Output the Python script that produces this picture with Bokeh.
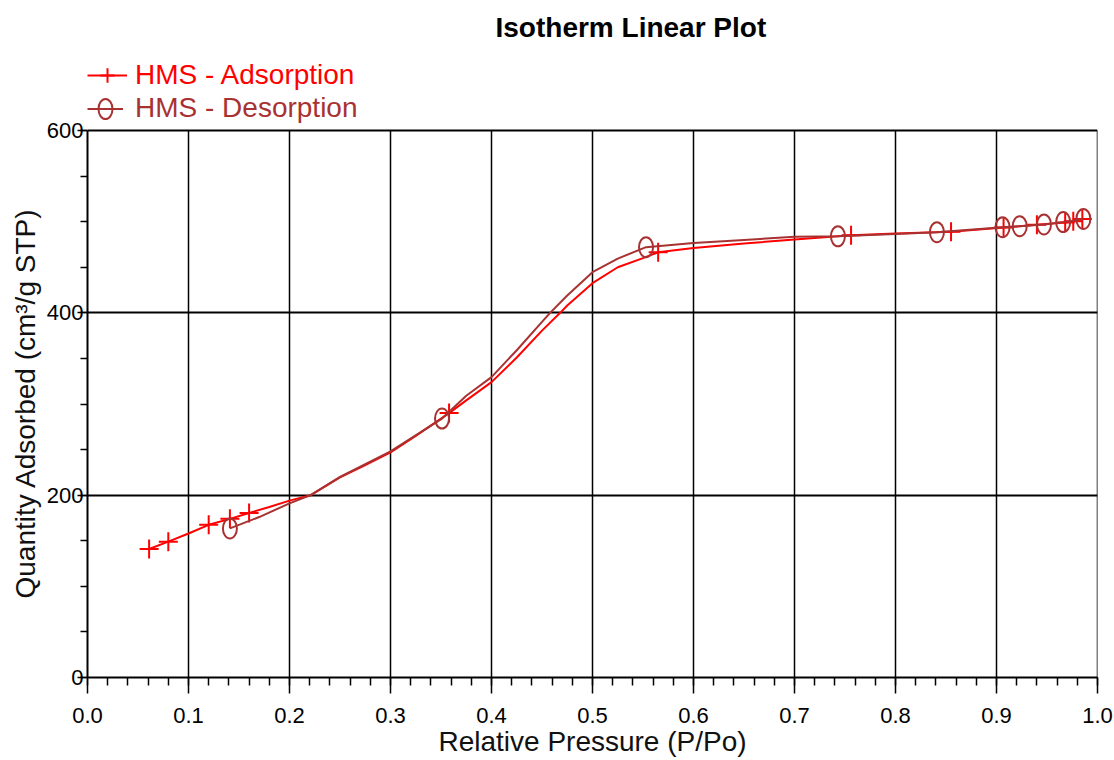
from bokeh.plotting import figure
from bokeh.models import (Range1d, SingleIntervalTicker, Legend, LegendItem, PrintfTickFormatter,
                          Label, Title)
from bokeh.embed import file_html
from bokeh.resources import INLINE

# ---- data ----
ads_x = [0.061, 0.080, 0.10, 0.120, 0.141, 0.160, 0.18, 0.20, 0.221, 0.25, 0.275, 0.30, 0.325,
         0.358, 0.375, 0.40, 0.425, 0.45, 0.468, 0.475, 0.50, 0.525, 0.55, 0.565, 0.60, 0.65,
         0.70, 0.756, 0.80, 0.855, 0.907, 0.940, 0.968, 0.976, 0.985]
ads_y = [141, 149, 158, 167.5, 174, 180.5, 187, 194, 200, 219.5, 233, 247, 265,
         290, 304, 324, 351, 380.5, 400, 408, 432.5, 450, 460, 466.5, 471, 476,
         480.5, 485, 487, 489, 493.5, 496.5, 499, 500.5, 503]
ads_mx = [0.061, 0.080, 0.120, 0.141, 0.160, 0.358, 0.565, 0.756, 0.855, 0.907, 0.940, 0.968, 0.976, 0.985]
ads_my = [141, 149, 167.5, 174, 180.5, 290, 466.5, 485, 489, 493.5, 496.5, 499, 500.5, 503]

des_x = [0.986, 0.966, 0.947, 0.923, 0.906, 0.841, 0.80, 0.743, 0.70, 0.65, 0.60, 0.553,
         0.525, 0.50, 0.475, 0.458, 0.45, 0.425, 0.40, 0.375, 0.351, 0.30, 0.25, 0.221,
         0.20, 0.17, 0.141]
des_y = [503, 499.5, 497, 495, 494, 488.5, 486.5, 484, 483.5, 480, 476.5, 472,
         459.5, 444.6, 419, 400, 390, 359, 329.5, 309, 284, 248, 220, 200,
         191, 176, 163.5]
des_mx = [0.141, 0.351, 0.553, 0.743, 0.841, 0.906, 0.923, 0.947, 0.966, 0.986]
des_my = [163.5, 284, 472, 484, 488.5, 494, 495, 497, 499.5, 503]

# vertical grid positions (major x ticks), right-hand border included
x_grid = [0.1, 0.2, 0.3, 0.4, 0.5, 0.6, 0.7, 0.8, 0.9, 1.0]

title_text = "Isotherm Linear Plot"
x_label = "Relative Pressure (P/Po)"
y_label = "Quantity Adsorbed (cm³/g STP)"
ads_name = "HMS - Adsorption"
des_name = "HMS - Desorption"
x_min, x_max = 0.0, 1.0
y_min, y_max = 0, 600

ADS_C = "#ff0000"
DES_C = "#a83232"
FONT = "Liberation Sans"

# layout: the frame reaches the top of the canvas; the axis area stops at y_max
FRAME_H = 677          # px from canvas top to the x axis
PLOT_H = 547           # px for the 0..600 axis
y_top = y_max * FRAME_H / PLOT_H

p = figure(width=1114, height=760, output_backend="svg", toolbar_location=None,
           x_range=Range1d(x_min, x_max), y_range=Range1d(y_min, y_top),
           min_border_left=87, min_border_right=17, min_border_top=0, min_border_bottom=83)
p.background_fill_color = "white"
p.border_fill_color = "white"
p.outline_line_color = None

# axes
xax = p.xaxis[0]
xax.ticker = SingleIntervalTicker(interval=0.1, num_minor_ticks=5)
xax.formatter = PrintfTickFormatter(format="%.1f")
yax = p.yaxis[0]
yax.ticker = SingleIntervalTicker(interval=200, num_minor_ticks=4)
yax.bounds = (y_min, y_max)

for ax in (xax, yax):
    ax.axis_line_color = "black"
    ax.axis_line_width = 2
    ax.major_tick_line_color = "black"
    ax.minor_tick_line_color = "black"
    ax.major_tick_line_width = 1.5
    ax.minor_tick_line_width = 1.5
    ax.major_tick_in = 0
    ax.minor_tick_in = 0
    ax.major_label_text_font = FONT
    ax.major_label_text_font_size = "22px"
    ax.major_label_text_color = "black"
    ax.axis_label_text_font = FONT
    ax.axis_label_text_font_size = "28px"
    ax.axis_label_text_font_style = "normal"
    ax.axis_label_text_color = "#111111"

xax.major_tick_out = 16
xax.minor_tick_out = 8
xax.major_label_standoff = 14
xax.axis_label = x_label
xax.axis_label_standoff = 0

yax.major_tick_out = 10
yax.minor_tick_out = 7
yax.major_label_standoff = -6

# y axis title, centred on the 0..600 span (not on the whole frame)
ytitle = Title(text=y_label, align="left", offset=79, text_font=FONT, text_font_size="28px",
               text_font_style="normal", text_color="#111111", standoff=6)
p.add_layout(ytitle, "left")

# grid: horizontal lines from the y grid, vertical lines limited to the 0..600 span
p.xgrid.grid_line_color = None
p.ygrid.grid_line_color = "black"
p.ygrid.grid_line_width = 2
p.segment(x0=x_grid, y0=[y_min] * len(x_grid), x1=x_grid, y1=[y_max] * len(x_grid),
          line_color="black", line_width=1.5)

# series
r_al = p.line(ads_x, ads_y, line_color=ADS_C, line_width=2)
r_am = p.scatter(ads_mx, ads_my, marker="cross", size=19, line_color=ADS_C, line_width=2)
r_dl = p.line(des_x, des_y, line_color=DES_C, line_width=2)
r_dm = p.ellipse(des_mx, des_my, width=14, height=20, width_units="screen", height_units="screen",
                 fill_color=None, line_color=DES_C, line_width=2)

common = dict(border_line_color=None, background_fill_alpha=0, padding=0, spacing=0, margin=0,
              label_text_font=FONT, label_text_font_size="28px", label_text_baseline="middle")
leg1 = Legend(items=[LegendItem(label=ads_name, renderers=[r_al, r_am])], location=(0, 584),
              glyph_width=40, glyph_height=36, label_height=36, label_standoff=8,
              label_text_color=ADS_C, **common)
leg2 = Legend(items=[LegendItem(label=des_name, renderers=[r_dl, r_dm])], location=(0, 553),
              glyph_width=36, glyph_height=25, label_height=32, label_standoff=12,
              label_text_color=DES_C, **common)
p.add_layout(leg1)
p.add_layout(leg2)

p.add_layout(Label(x=408, y=650, x_units="screen", y_units="screen", text=title_text,
                   text_align="left", text_baseline="middle", text_font=FONT,
                   text_font_size="28px", text_font_style="bold", text_color="black"))

open("out.html", "w").write(file_html(p, INLINE))
